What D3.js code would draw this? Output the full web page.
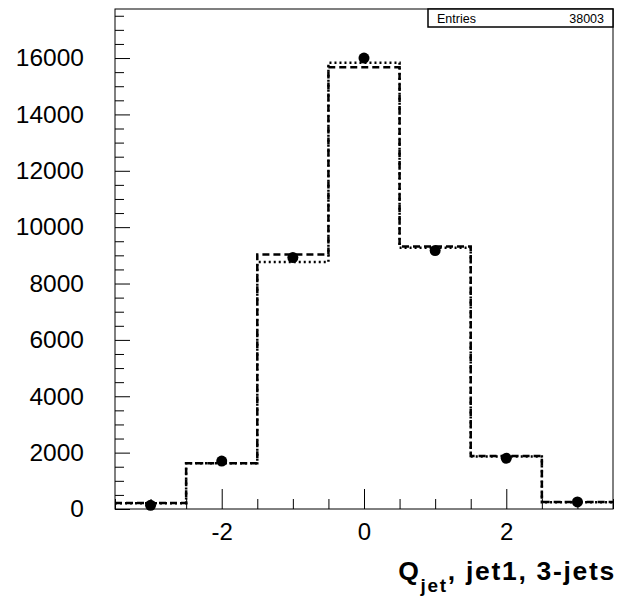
<!DOCTYPE html>
<html>
<head>
<meta charset="utf-8">
<script src="https://cdn.jsdelivr.net/npm/d3@7"></script>
<style>
  body { margin: 0; background: #fff; }
  text { font-family: "Liberation Sans", Arial, Helvetica, sans-serif; }
</style>
</head>
<body>
<div id="chart"></div>
<script>
// bin centres and contents
const bins = [-3, -2, -1, 0, 1, 2, 3];
const dataPoints = [130, 1700, 8920, 16000, 9170, 1800, 250];
const histDashed = [210, 1620, 9030, 15670, 9310, 1880, 250];
const histDotted = [200, 1620, 8760, 15830, 9270, 1860, 240];
const xMajor = [-2, 0, 2];
const yMajor = [0, 2000, 4000, 6000, 8000, 10000, 12000, 14000, 16000];
const entries = 38003;

const width = 618;
const height = 599;

const svg = d3.select("#chart")
  .append("svg")
  .attr("width", width)
  .attr("height", height);

const x = d3.scaleLinear().domain([-3.5, 3.5]).range([115, 613]);
const y = d3.scaleLinear().domain([0, 17740]).range([509, 9]);

// minor ticks
const xMinor = d3.range(-3.5, 3.51, 0.5).filter(v => !xMajor.includes(v));
const yMinor = d3.range(0, 17740, 500).filter(v => !yMajor.includes(v));

svg.append("g")
  .attr("transform", `translate(0,${y(0)})`)
  .call(d3.axisBottom(x).tickValues(xMinor).tickFormat("").tickSizeInner(-10).tickSizeOuter(0))
  .call(g => g.select(".domain").remove());

svg.append("g")
  .attr("transform", `translate(0,${y(0)})`)
  .call(d3.axisBottom(x).tickValues(xMajor).tickFormat(d => String(d)).tickSizeInner(-20).tickSizeOuter(0).tickPadding(14))
  .call(g => g.select(".domain").remove())
  .call(g => g.selectAll("text").attr("font-size", 24).attr("fill", "#000").style("font-family", "Liberation Sans, Arial, sans-serif"));

svg.append("g")
  .attr("transform", `translate(${x(-3.5)},0)`)
  .call(d3.axisLeft(y).tickValues(yMinor).tickFormat("").tickSizeInner(-9).tickSizeOuter(0))
  .call(g => g.select(".domain").remove());

svg.append("g")
  .attr("transform", `translate(${x(-3.5)},0)`)
  .call(d3.axisLeft(y).tickValues(yMajor).tickFormat(d => String(d)).tickSizeInner(-15).tickSizeOuter(0).tickPadding(31))
  .call(g => g.select(".domain").remove())
  .call(g => g.selectAll("text").attr("font-size", 24.5).attr("fill", "#000").style("font-family", "Liberation Sans, Arial, sans-serif"));

svg.selectAll(".tick line").attr("stroke", "#000");

// step outline of a histogram
function stepPath(vals) {
  const p = d3.path();
  vals.forEach((v, i) => {
    const lo = x(bins[i] - 0.5), hi = x(bins[i] + 0.5);
    if (i === 0) p.moveTo(lo, y(v)); else p.lineTo(lo, y(v));
    p.lineTo(hi, y(v));
  });
  return p.toString();
}

svg.append("path")
  .attr("d", stepPath(histDotted))
  .attr("fill", "none")
  .attr("stroke", "#000")
  .attr("stroke-width", 2.5)
  .attr("stroke-dasharray", "2,3");

svg.append("path")
  .attr("d", stepPath(histDashed))
  .attr("fill", "none")
  .attr("stroke", "#000")
  .attr("stroke-width", 2.5)
  .attr("stroke-dasharray", "7,4");

svg.append("g")
  .selectAll("circle")
  .data(dataPoints)
  .join("circle")
  .attr("cx", (d, i) => x(bins[i]))
  .attr("cy", d => y(d))
  .attr("r", 5.5)
  .attr("fill", "#000");

// frame
svg.append("rect")
  .attr("x", x(-3.5))
  .attr("y", y(17740))
  .attr("width", x(3.5) - x(-3.5))
  .attr("height", y(0) - y(17740))
  .attr("fill", "none")
  .attr("stroke", "#000")
  .attr("stroke-width", 1);

// stats box
const stats = svg.append("g");
stats.append("rect")
  .attr("x", 428).attr("y", 9)
  .attr("width", 185).attr("height", 18)
  .attr("fill", "#fff")
  .attr("stroke", "#000")
  .attr("stroke-width", 1.5);
stats.append("text")
  .attr("x", 437).attr("y", 22.5)
  .attr("font-size", 12.5)
  .text("Entries");
stats.append("text")
  .attr("x", 604).attr("y", 22.5)
  .attr("font-size", 12.5)
  .attr("text-anchor", "end")
  .text(entries);

// axis title
const title = svg.append("text")
  .attr("x", 616).attr("y", 580)
  .attr("text-anchor", "end")
  .attr("font-size", 26.5)
  .attr("font-weight", "bold")
  .attr("letter-spacing", 1.7);
title.append("tspan").text("Q");
title.append("tspan").attr("font-size", 19).attr("dy", 12).text("jet");
title.append("tspan").attr("dy", -12).text(", jet1, 3-jets");
</script>
</body>
</html>
